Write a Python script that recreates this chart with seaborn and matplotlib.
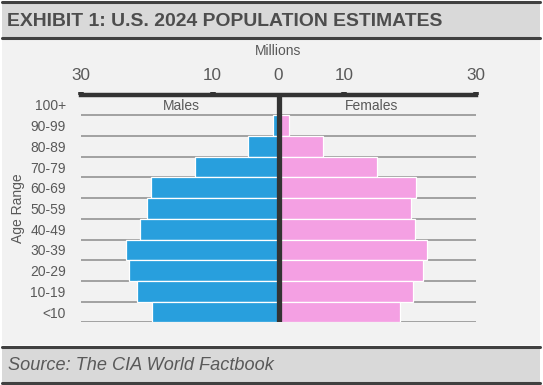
import matplotlib
matplotlib.use("Agg")
import matplotlib.pyplot as plt
import seaborn as sns
import pandas as pd
import numpy as np
from matplotlib.patches import Rectangle
from matplotlib.lines import Line2D
from matplotlib.ticker import FixedLocator

# data (millions), top row first
age_groups = ['100+', '90-99', '80-89', '70-79', '60-69', '50-59',
              '40-49', '30-39', '20-29', '10-19', '<10']
males = [0.05, 0.85, 4.6, 12.7, 19.4, 20.0, 21.0, 23.2, 22.7, 21.5, 19.2]
females = [0.1, 1.6, 6.7, 15.0, 20.9, 20.2, 20.8, 22.5, 21.9, 20.5, 18.4]
tick_pos = [-30, -10, 0, 10, 30]
tick_labels = ['30', '10', '0', '10', '30']

BLUE = '#289fdd'
PINK = '#f4a0e3'
DARK = '#404040'
TXT = '#595959'

sns.set_style('white')
plt.rcParams['font.family'] = ['Liberation Sans', 'DejaVu Sans']

W, H = 543, 385
fig = plt.figure(figsize=(W / 100, H / 100), dpi=100)
fig.patch.set_facecolor('white')


def fx(px):
    return px / W


def fy(py):
    return 1 - py / H


def fit_width(t, target):
    # shrink/grow a text so it spans the same width as in the reference
    r = fig.canvas.get_renderer()
    w = t.get_window_extent(r).width
    t.set_fontsize(t.get_fontsize() * target / w)


# panel backgrounds
fig.add_artist(Rectangle((fx(2), fy(345)), fx(538), 307 / H, transform=fig.transFigure,
                         facecolor='#f2f2f2', edgecolor='none', zorder=0))
fig.add_artist(Rectangle((fx(2), fy(37.5)), fx(538), 35.5 / H, transform=fig.transFigure,
                         facecolor='#d9d9d9', edgecolor='none', zorder=0))
fig.add_artist(Rectangle((fx(2), fy(382)), fx(538), 35 / H, transform=fig.transFigure,
                         facecolor='#d9d9d9', edgecolor='none', zorder=0))
for yy in [2, 37.5, 346.5, 382.5]:
    fig.add_artist(Line2D([fx(2), fx(540)], [fy(yy), fy(yy)], transform=fig.transFigure,
                          color=DARK, lw=2.2, zorder=1))

title = fig.text(fx(7), fy(21), 'EXHIBIT 1: U.S. 2024 POPULATION ESTIMATES', fontsize=16,
                 fontweight='bold', color='#4d4d4d', va='center', ha='left')
source = fig.text(fx(8), fy(365), 'Source: The CIA World Factbook', fontsize=14,
                  style='italic', color=TXT, va='center', ha='left')

ax_top, ax_bot = 94.5, 322.4
ax = fig.add_axes([fx(81), fy(ax_bot), fx(476 - 81), (ax_bot - ax_top) / H])
ax.set_facecolor('none')

df = pd.DataFrame({'age': age_groups, 'males': males, 'females': females})
df['males_neg'] = -df['males']

sns.barplot(data=df, x='males_neg', y='age', order=age_groups, color=BLUE,
            width=1.0, edgecolor='white', linewidth=0.9, saturation=1, ax=ax, zorder=3)
sns.barplot(data=df, x='females', y='age', order=age_groups, color=PINK,
            width=1.0, edgecolor='white', linewidth=0.9, saturation=1, ax=ax, zorder=3)

ax.set_xlim(-30, 30)
ax.set_ylim(len(age_groups) - 0.5, -0.5)

# row separators
ax.yaxis.set_minor_locator(FixedLocator(np.arange(len(age_groups)) + 0.5))
ax.grid(which='minor', axis='y', color='#8c8c8c', lw=1.1, zorder=1)
ax.grid(which='major', axis='both', visible=False)
ax.set_axisbelow(True)

ax.axvline(0, color='#333333', lw=3.8, zorder=5)

for s in ['left', 'right', 'bottom']:
    ax.spines[s].set_visible(False)
ax.spines['top'].set_color('#333333')
ax.spines['top'].set_linewidth(3.2)

ax.xaxis.tick_top()
ax.set_xticks(tick_pos)
ax.set_xticklabels(tick_labels)
ax.tick_params(axis='x', which='major', direction='out', length=2.5, width=4,
               color='#333333', pad=6, labelsize=12.3, labelcolor=TXT)
ax.xaxis.get_major_ticks()[2].tick2line.set_visible(False)
ax.tick_params(axis='y', which='both', length=0, pad=11, labelsize=10, labelcolor=TXT)
ax.set_xlabel('')
ax.set_ylabel('Age Range', fontsize=10, color=TXT, va='center')
ax.yaxis.set_label_coords((18 - 81) / 395, 0.5)

millions = fig.text(fx(278.5), fy(51), 'Millions', fontsize=10, color=TXT,
                    ha='center', va='center')
ax.text(-14.8, 0.05, 'Males', fontsize=10, color=TXT, ha='center', va='center')
ax.text(14.2, 0.05, 'Females', fontsize=10, color=TXT, ha='center', va='center')

fit_width(title, 438)
fit_width(source, 266)

fig.savefig('out.png', dpi=100)
